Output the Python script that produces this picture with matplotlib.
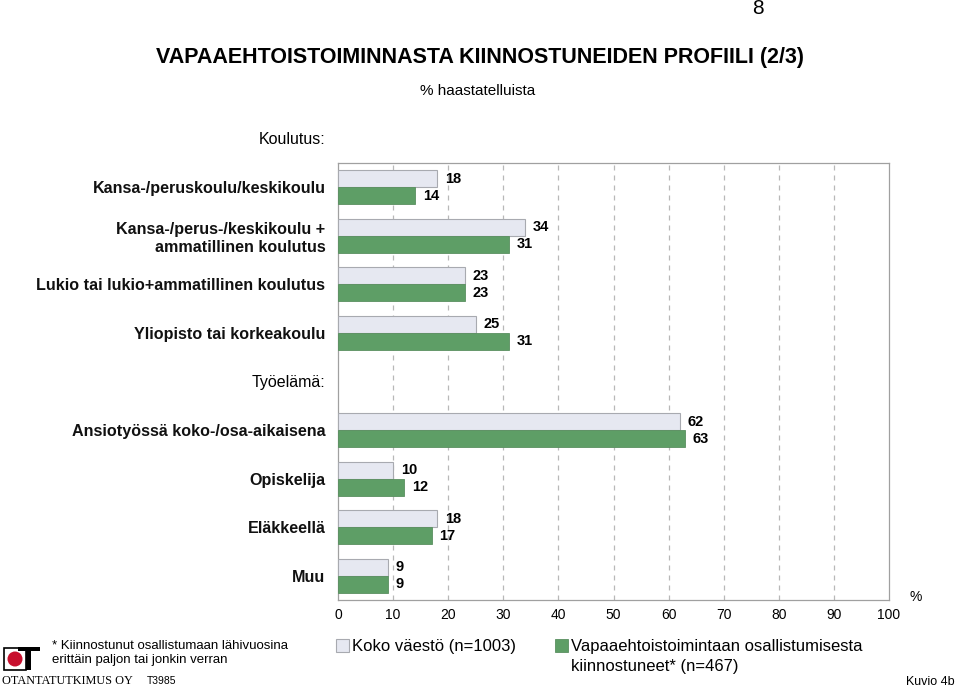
import matplotlib
matplotlib.use("Agg")
import matplotlib.pyplot as plt
from matplotlib.patches import Rectangle, Ellipse
import numpy as np

plt.rcParams['font.family'] = ['Liberation Sans', 'DejaVu Sans']

categories = [
    "Kansa-/peruskoulu/keskikoulu",
    "Kansa-/perus-/keskikoulu +\nammatillinen koulutus",
    "Lukio tai lukio+ammatillinen koulutus",
    "Yliopisto tai korkeakoulu",
    "",
    "Ansiotyössä koko-/osa-aikaisena",
    "Opiskelija",
    "Eläkkeellä",
    "Muu",
]
koko = [18, 34, 23, 25, None, 62, 10, 18, 9]
kiinnostuneet = [14, 31, 23, 31, None, 63, 12, 17, 9]
xticks = [0, 10, 20, 30, 40, 50, 60, 70, 80, 90, 100]
series_names = ["Koko väestö (n=1003)", "Vapaaehtoistoimintaan osallistumisesta\nkiinnostuneet* (n=467)"]

c_light = "#E6E8F1"
c_green = "#5E9E66"

fig = plt.figure(figsize=(9.6, 6.88), dpi=100)
W, H = 960, 688
ax = fig.add_axes([338 / W, 1 - 600 / H, (889 - 338) / W, (600 - 163) / H])

n = len(categories)
ypos = np.arange(n)
bh = 0.35
for i in range(n):
    if koko[i] is None:
        continue
    ax.barh(ypos[i] - bh / 2, koko[i], height=bh, color=c_light, edgecolor="#A8AAB0", linewidth=0.8, zorder=3)
    ax.barh(ypos[i] + bh / 2, kiinnostuneet[i], height=bh, color=c_green, edgecolor="#5A8F60", linewidth=0.6, zorder=3)
    ax.text(koko[i] + 1.4, ypos[i] - bh / 2, str(koko[i]), va="center", ha="left", fontsize=10.5, fontweight="bold")
    ax.text(kiinnostuneet[i] + 1.4, ypos[i] + bh / 2, str(kiinnostuneet[i]), va="center", ha="left", fontsize=10.5, fontweight="bold")

ax.set_xlim(0, 100)
ax.set_ylim(n - 0.5, -0.5)
ax.set_xticks(xticks)
ax.set_xticklabels([str(t) for t in xticks], fontsize=10)
ax.tick_params(axis="x", length=0, pad=6)
ax.set_yticks(ypos)
ax.set_yticklabels(categories, fontsize=11.6, fontweight="bold", color="#111111")
ax.tick_params(axis="y", length=0, pad=9)
for lbl in ax.get_yticklabels():
    lbl.set_horizontalalignment("right")
    lbl.set_multialignment("right")
for x in xticks[1:-1]:
    ax.axvline(x, color="#B8B8B8", linestyle=(0, (4, 4)), linewidth=0.9, zorder=1)
for s in ax.spines.values():
    s.set_color("#A0A0A0")
    s.set_linewidth(0.9)

# Section headers
fig.text(325 / W, 1 - 140 / H, "Koulutus:", ha="right", va="center", fontsize=11.5)
fig.text(325 / W, 1 - 383 / H, "Työelämä:", ha="right", va="center", fontsize=11.5)

# Titles
fig.text(480 / W, 1 - 58 / H, "VAPAAEHTOISTOIMINNASTA KIINNOSTUNEIDEN PROFIILI (2/3)",
         ha="center", va="center", fontsize=15.5, fontweight="bold")
fig.text(478 / W, 1 - 91 / H, "% haastatelluista", ha="center", va="center", fontsize=11)
fig.text(758 / W, 1 - 8 / H, "8", ha="center", va="center", fontsize=15)
fig.text(916 / W, 1 - 597 / H, "%", ha="center", va="center", fontsize=10)

# Legend
sq = 13
fig.patches.append(Rectangle((336 / W, 1 - 652 / H), sq / W, sq / H, transform=fig.transFigure,
                             facecolor=c_light, edgecolor="#A8AAB0", linewidth=0.8))
fig.text(352 / W, 1 - 646 / H, series_names[0], ha="left", va="center", fontsize=12)
fig.patches.append(Rectangle((555 / W, 1 - 652 / H), sq / W, sq / H, transform=fig.transFigure,
                             facecolor=c_green, edgecolor="#5A8F60", linewidth=0.6))
fig.text(571 / W, 1 - 646 / H, series_names[1].split("\n")[0], ha="left", va="center", fontsize=12)
fig.text(571 / W, 1 - 666 / H, series_names[1].split("\n")[1], ha="left", va="center", fontsize=12)

# Footnote
fig.text(52 / W, 1 - 646 / H, "* Kiinnostunut osallistumaan lähivuosina", ha="left", va="center", fontsize=9.5)
fig.text(52 / W, 1 - 660 / H, "erittäin paljon tai jonkin verran", ha="left", va="center", fontsize=9.5)
fig.text(2 / W, 1 - 681 / H, "OTANTATUTKIMUS OY", ha="left", va="center", fontsize=8.8,
         family=["Liberation Serif", "DejaVu Serif"])
fig.text(147 / W, 1 - 681 / H, "T3985", ha="left", va="center", fontsize=7.5)
fig.text(955 / W, 1 - 682 / H, "Kuvio 4b", ha="right", va="center", fontsize=9)

# Logo
fig.patches.append(Rectangle((4 / W, 1 - 670 / H), 22 / W, 22 / H, transform=fig.transFigure,
                             facecolor="white", edgecolor="black", linewidth=1.2))
fig.patches.append(Rectangle((18 / W, 1 - 651 / H), 22 / W, 4 / H, transform=fig.transFigure,
                             facecolor="black", edgecolor="none"))
fig.patches.append(Rectangle((26 / W, 1 - 670 / H), 5 / W, 22 / H, transform=fig.transFigure,
                             facecolor="black", edgecolor="none"))
fig.patches.append(Ellipse((15 / W, 1 - 659 / H), 15 / W, 15 / H, transform=fig.transFigure,
                           facecolor="#C8102E", edgecolor="none"))

fig.savefig("out.png", dpi=100)
